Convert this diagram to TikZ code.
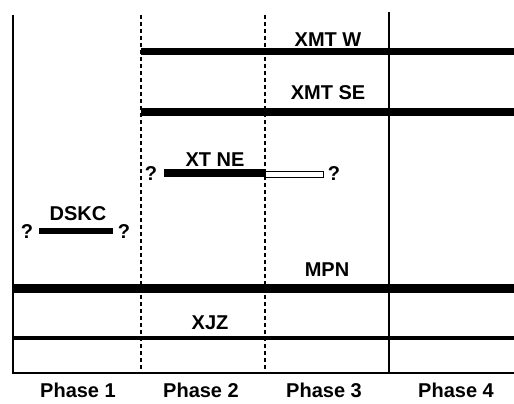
\documentclass[tikz,border=0pt]{standalone}
\usepackage{fontspec}
\setmainfont{Liberation Sans}
\usetikzlibrary{positioning}

\begin{document}
\begin{tikzpicture}[
    x=1pt, y=-1pt,
    lbl/.style={font=\fontsize{20}{22}\selectfont\bfseries, inner sep=0pt},
    axisline/.style={line width=2.2pt},
    divider/.style={line width=1.5pt, dash pattern=on 4pt off 3pt},
    bar/.style={line width=#1},
]
\useasboundingbox (0,0) rectangle (514,404);

% frame and phase dividers
\coordinate (origin) at (13,373);
\draw[axisline] (13,15) -- (origin) -- (514,373);
\draw[divider] (141,15) -- (141,373);
\draw[divider] (265,15) -- (265,373);
\draw[line width=2pt] (389,12) -- (389,373);

% bars
\draw[bar=7pt] (141,52) -- (514,52);
\draw[bar=8pt] (141,112) -- (514,112);
\draw[bar=8pt] (164,173) -- (265,173);
\draw[line width=1pt, fill=white] (265,171) rectangle (323,177);
\draw[bar=6pt] (39,231) -- (113,231);
\draw[bar=9pt] (13,288) -- (514,288);
\draw[bar=4pt] (13,338) -- (514,338);

% labels
\node[lbl] (xmtw) at (328,40) {XMT W};
\node[lbl] (xmtse) at (328,93) {XMT SE};
\node[lbl] (xtne) at (215,160) {XT NE};
\node[lbl] (xtneL) at (151,174) {?};
\node[lbl] (xtneR) at (334,174) {?};
\node[lbl] (dskc) at (78,214) {DSKC};
\node[lbl] (dskcL) at (27,232) {?};
\node[lbl] (dskcR) at (124,232) {?};
\node[lbl] (mpn) at (327,270) {MPN};
\node[lbl] (xjz) at (210,323) {XJZ};

\foreach \x/\n in {78/1, 201/2, 324/3, 456/4}
    \node[lbl] (phase\n) at (\x,390) {Phase \n};
\end{tikzpicture}
\end{document}
